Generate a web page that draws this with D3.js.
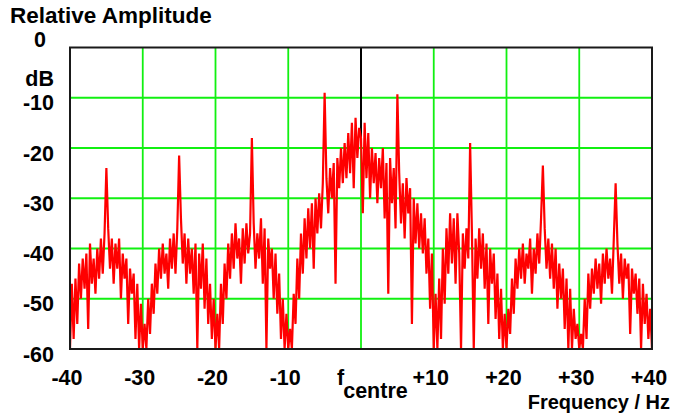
<!DOCTYPE html>
<html>
<head>
<meta charset="utf-8">
<script src="https://cdn.jsdelivr.net/npm/d3@7"></script>
<style>
  html, body { margin: 0; padding: 0; background: #fff; }
  svg { display: block; }
  text { font-family: "Liberation Sans", Arial, sans-serif; font-weight: bold; fill: #000; }
</style>
</head>
<body>
<script>
// Spectrum trace: relative amplitude (dB) sampled every 0.25 Hz from -40 Hz to +40 Hz
const freqStart = -40;
const freqStep = 0.25;
const amplitude = [
  // -40 .. -30.25 Hz
  -60,-47,-58,-46,-55, -43,-50,-42,-48,-41, -56,-39,-47,-42,-49, -40,-46,-38,-45,-37,
  -24,-36,-44,-38,-47, -39,-44,-38,-50,-41, -46,-42,-55,-44,-49, -45,-58,-47,-60,-51,
  // -30 .. -20.25 Hz
  -60,-55,-60,-50,-57, -47,-53,-43,-49,-40, -46,-39,-45,-41,-48, -38,-44,-37,-45,-36,
  -21.5,-34,-43,-37,-47, -38,-45,-40,-49,-39, -60,-41,-48,-39,-52, -42,-55,-47,-58,-50,
  // -20 .. -10.25 Hz
  -60,-53,-60,-47,-55, -43,-50,-39,-46,-37, -44,-35,-42,-38,-47, -36,-43,-35,-41,-37,
  -18,-35,-44,-37,-42, -34,-47,-36,-60,-38, -44,-40,-50,-41,-53, -45,-58,-50,-60,-53,
  // -10 .. -0.25 Hz
  -60,-56,-60,-49,-55, -42,-50,-37,-45,-34, -42,-32,-40,-31,-44, -30,-37,-29,-36,-27,
  -9,-26,-33,-24,-30, -23,-47,-22,-28,-20, -27,-19,-26,-17,-25, -15,-28,-14,-22,-16,
  // 0 .. +9.75 Hz
  -18,-33,-15,-26,-17, -30,-20,-27,-21,-31, -22,-28,-20,-34,-23, -49,-22,-31,-24,-36,
  -9.3,-25,-35,-27,-38, -26,-33,-28,-55,-30, -39,-31,-40,-33,-41, -34,-45,-38,-52,-41,
  // +10 .. +19.75 Hz
  -60,-49,-60,-46,-58, -40,-51,-36,-45,-33, -43,-34,-47,-33,-41, -60,-37,-44,-36,-42,
  -19,-37,-60,-38,-46, -36,-44,-37,-48,-39, -55,-40,-47,-41,-54, -45,-58,-48,-60,-53,
  // +20 .. +29.75 Hz
  -60,-52,-57,-46,-53, -42,-48,-40,-46,-39, -47,-41,-44,-38,-49, -40,-45,-37,-43,-34,
  -23.5,-36,-44,-38,-46, -39,-48,-40,-52,-43, -50,-44,-56,-46,-60, -48,-60,-52,-58,-55,
  // +30 .. +40 Hz
  -60,-57,-60,-50,-58, -45,-52,-44,-49,-42, -48,-43,-51,-41,-47, -40,-46,-42,-49,-38,
  -27,-39,-47,-41,-50, -42,-46,-43,-57,-44, -49,-45,-53,-46,-60, -47,-55,-49,-58,-52,
  -60
];

// Axis ticks and labels
const freqTicks = [-40, -30, -20, -10, 10, 20, 30, 40];
const freqTickLabels = ["-40", "-30", "-20", "-10", "+10", "+20", "+30", "+40"];
const freqGrid = [-30, -20, -10, 0, 10, 20, 30];
const dbTicks = [-10, -20, -30, -40, -50, -60];
const dbTickLabels = ["-10", "-20", "-30", "-40", "-50", "-60"];
const dbGrid = [-10, -20, -30, -40, -50];

// Carrier marker at the centre frequency
const carrierFreq = 0;
const carrierLevel = -18;

const W = 683, H = 417;
const plot = { left: 70, right: 652, top: 47.5, bottom: 349 };

const x = d3.scaleLinear().domain([-40, 40]).range([plot.left, plot.right]);
const y = d3.scaleLinear().domain([0, -60]).range([plot.top, plot.bottom]);

const svg = d3.select("body").append("svg")
  .attr("width", W).attr("height", H);

svg.append("rect").attr("width", W).attr("height", H).attr("fill", "#fff");

svg.append("clipPath").attr("id", "plotClip")
  .append("rect")
  .attr("x", plot.left).attr("y", plot.top)
  .attr("width", plot.right - plot.left).attr("height", plot.bottom - plot.top);

// Grid
const grid = svg.append("g").attr("stroke", "#11f011").attr("stroke-width", 1.8);
grid.selectAll("line.v").data(freqGrid).join("line")
  .attr("class", "v")
  .attr("x1", d => x(d)).attr("x2", d => x(d))
  .attr("y1", plot.top).attr("y2", plot.bottom);
grid.selectAll("line.h").data(dbGrid).join("line")
  .attr("class", "h")
  .attr("x1", plot.left).attr("x2", plot.right)
  .attr("y1", d => y(d)).attr("y2", d => y(d));

// Carrier marker
svg.append("line")
  .attr("x1", x(carrierFreq)).attr("x2", x(carrierFreq))
  .attr("y1", y(0)).attr("y2", y(carrierLevel))
  .attr("stroke", "#000").attr("stroke-width", 2);

// Spectrum trace
const points = amplitude.map((a, i) => [freqStart + i * freqStep, a]);
svg.append("path")
  .datum(points)
  .attr("clip-path", "url(#plotClip)")
  .attr("fill", "none")
  .attr("stroke", "#ff0000")
  .attr("stroke-width", 2.2)
  .attr("stroke-linejoin", "bevel")
  .attr("d", d3.line().x(d => x(d[0])).y(d => y(d[1])));

// Plot frame
svg.append("rect")
  .attr("x", plot.left).attr("y", plot.top)
  .attr("width", plot.right - plot.left).attr("height", plot.bottom - plot.top)
  .attr("fill", "none").attr("stroke", "#1a1a1a").attr("stroke-width", 2);

// Y axis labels
const fs = 21.5;
svg.append("text").attr("x", 10).attr("y", 23)
  .attr("font-size", 22.5).text("Relative Amplitude");
svg.append("text").attr("x", 46).attr("y", 47).attr("text-anchor", "end")
  .attr("font-size", fs).text("0");
svg.append("text").attr("x", 54).attr("y", 86).attr("text-anchor", "end")
  .attr("font-size", fs).text("dB");
svg.selectAll("text.ylab").data(dbTicks).join("text")
  .attr("class", "ylab")
  .attr("x", 54).attr("y", d => y(d) + 12.5)
  .attr("text-anchor", "end").attr("font-size", fs)
  .text((d, i) => dbTickLabels[i]);

// X axis labels
svg.selectAll("text.xlab").data(freqTicks).join("text")
  .attr("class", "xlab")
  .attr("x", d => x(d) - 3).attr("y", 385)
  .attr("text-anchor", "middle").attr("font-size", fs)
  .text((d, i) => freqTickLabels[i]);
const centre = svg.append("text").attr("x", 337).attr("y", 385).attr("font-size", fs);
centre.append("tspan").text("f");
centre.append("tspan").attr("dy", 13).attr("dx", -1).text("centre");
svg.append("text").attr("x", 670).attr("y", 409).attr("text-anchor", "end")
  .attr("font-size", 20).text("Frequency / Hz");
</script>
</body>
</html>
